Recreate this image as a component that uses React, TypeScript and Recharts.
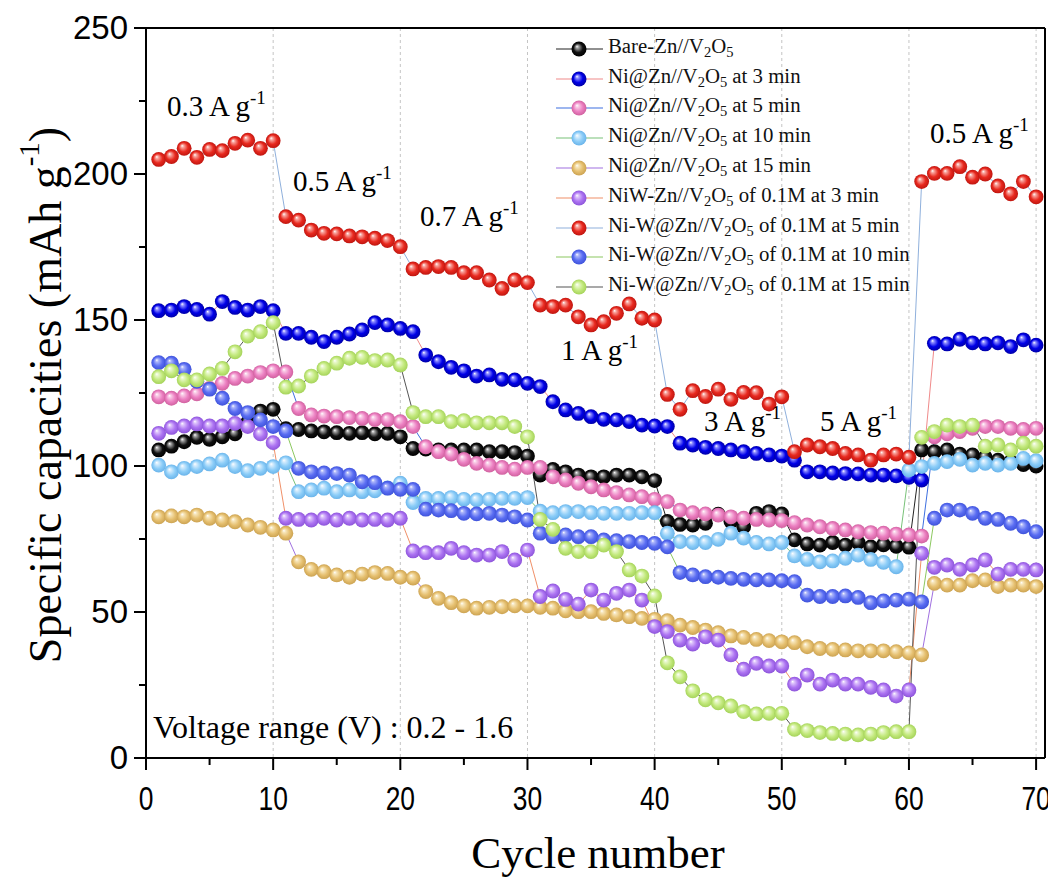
import React from "react";
import { LineChart, Line, XAxis, YAxis, CartesianGrid, Legend, ReferenceLine } from "recharts";

const cycles = [
  1, 2, 3, 4, 5, 6, 7, 8, 9, 10, 11, 12, 13, 14, 15, 16, 17, 18, 19, 20,
  21, 22, 23, 24, 25, 26, 27, 28, 29, 30, 31, 32, 33, 34, 35, 36, 37, 38, 39, 40,
  41, 42, 43, 44, 45, 46, 47, 48, 49, 50, 51, 52, 53, 54, 55, 56, 57, 58, 59, 60,
  61, 62, 63, 64, 65, 66, 67, 68, 69, 70,
];

const bare = [
  105.5, 106.8, 108.3, 109.8, 109.1, 110, 111, 115, 118.8, 119.4,
  112.8, 112.5, 112, 111.7, 111.4, 111.2, 111.4, 111, 111.2, 110, 106,
  105.8, 105.5, 105.5, 105.5, 105.5, 104.9, 104.9, 104.6, 103.4,
  96.9, 98.8, 98, 96.9, 96.3, 96.3, 96.9, 96.9, 96.3, 95,
  81, 80, 79.8, 80.4, 83.5, 81, 79.2, 83.8, 84.4, 83.6,
  74.7, 73.3, 72.9, 73.8, 72.9, 73.8, 72.3, 73, 72.5, 72.2,
  105.5, 104.9, 105.5, 104.1, 103.8, 103, 102, 101.5, 100.5, 100,
];

const ni3 = [
  153.2, 153.4, 154.6, 153.6, 152, 156.3, 154.3, 153.4, 154.6, 153.2,
  145.4, 145.4, 144.1, 142.6, 144.1, 145.2, 146.6, 149.1, 148.3, 147.1, 146,
  138, 135.7, 133.8, 132.6, 130.8, 131.2, 129.7, 129.5, 128.3,
  127.2, 122, 119.2, 118, 116.9, 116, 115.8, 115.2, 114, 113.7, 113.5,
  107.8, 107.2, 106.4, 106, 105.5, 104.9, 104.3, 103.8, 103.4, 102,
  98, 98, 97.6, 97.4, 97.3, 96.9, 96.9, 96.6, 96.1, 95.2,
  142, 141.8, 143.4, 142.2, 141.8, 142.2, 140.9, 143.2, 141.4,
];

const ni5 = [
  123.7, 123.2, 124, 124.7, 126.6, 128.3, 130, 130.8, 132, 132.6, 132.2,
  119.7, 117.5, 117.1, 116.9, 116.6, 116.3, 115.9, 115.9, 115.2, 113.5,
  106.6, 104.9, 104.1, 102.3, 100.9, 100.3, 99.5, 98.9, 99.5, 99.5,
  96.3, 95.2, 94.1, 92.9, 91.8, 90.9, 90.1, 89.5, 88.6, 87.8,
  84.9, 84, 83.6, 83.2, 82.6, 82.1, 81.7, 81.5, 81.3, 80.6,
  79.8, 79.2, 78.6, 78.1, 77.5, 77.2, 77, 76.7, 76.4, 76,
  110, 111, 111.8, 112.9, 113.5, 113.5, 112.9, 112.5, 112.9,
];

const ni10 = [
  100.3, 98, 99.2, 99.8, 100.7, 102, 99.8, 98.4, 99.2, 99.8, 101.1,
  91.2, 91.8, 92.4, 91.2, 91.8, 91.2, 91.5, 92.5, 94.1, 87.5,
  88.9, 88.9, 89.2, 88.6, 88.4, 88.6, 88.9, 88.9, 89.2,
  84.5, 84, 84.4, 84.4, 84, 83.8, 83.8, 83.8, 84, 84,
  77, 74.1, 73.8, 73.8, 74.9, 77, 75.3, 73.8, 73.3, 73.8,
  69.2, 68, 67.2, 67.5, 68.4, 69.5, 68, 67, 65.5,
  98.6, 99.8,
  100.9, 101.5, 102.3, 100.3, 100.9, 100.3, 100.9, 102.6, 101.8,
];

const ni15 = [
  82.6, 82.9, 82.6, 83.2, 82.1, 81.5, 80.9, 79.8, 79, 78.1, 77,
  67.2, 64.6, 63.8, 62.7, 61.9, 63, 63.5, 63.2, 61.9, 61.6,
  57, 54.7, 53.2, 52.1, 51.3, 51.6, 51.8, 52.1, 52.1,
  51.6, 51.3, 50.4, 50.1, 50.1, 49.5, 49, 48.4, 47.8, 47.5,
  47, 45.5, 44.7, 43.8, 42.9, 41.8, 41.3, 40.6, 40.2, 39.8,
  39.5, 38.1, 37.5, 37.2, 37, 36.7, 36.7, 36.7, 36.4, 36, 35.3,
  59.8, 59.2, 59.2, 60.7, 61, 58.7, 59.2, 59.2, 58.7,
];

const niw3 = [
  111.2, 113.2, 113.7, 114.4, 113.7, 113.7, 114.6, 113.5, 111, 108,
  82.1, 81.7, 81.5, 82.1, 81.5, 82.1, 81.5, 81.7, 81.5, 82.1,
  70.9, 70.3, 70.3, 71.8, 70.3, 69.5, 69.5, 70.7, 67.8, 71.2,
  55.3, 57.2, 54.3, 52.7, 57.5, 54.1, 56.4, 57.5, 54.1,
  45, 43.3, 40.4, 39, 41.5, 40.4, 35.3, 30.4, 32.4, 31.5, 31.5,
  25.3, 28.4, 25.3, 26.7, 25.3, 25.3, 24.2, 23.3, 21.2, 23.3,
  70.1, 65.3, 66.1, 64.6, 66.1, 67.8, 63, 64.6, 64.6, 64.4,
];

const niw5 = [
  205, 206, 208.8, 205.7, 208.4, 208, 210.5, 211.6, 208.8, 211.4,
  185.4, 184.2, 180.8, 179.7, 179.5, 178.8, 178.5, 178, 177.2, 175.1,
  167.5, 168, 168.3, 168, 166.2, 166.2, 163.7, 160.8, 163.7, 162.8,
  155.1, 154.6, 155.1, 151.1, 148.3, 149.4, 152.3, 155.5, 150.6, 150,
  124.5, 119.4, 125.8, 123.8, 126.3, 122.8, 125.2, 125.1, 121.2, 123.7,
  104.9, 107.2, 106.6, 106, 104.3, 103.8, 102, 103.8, 104.1, 103,
  197.4, 200.2, 200.2, 202.5, 198.9, 200, 195.9, 193.2, 197.4, 192.2,
];

const niw10 = [
  135.4, 135.2, 133.1, 129, 126.3, 123.2, 119.7, 118.3, 115.8, 113.5, 112,
  99.2, 98, 97.6, 97.4, 96.9, 94.6, 94.3, 92.4, 92, 92,
  85.2, 84.9, 84.7, 83.8, 83.6, 83.8, 83.2, 82.6, 81.5,
  77,
  75.8, 76.4, 75.8, 75.8, 74.7, 74.4, 74.1, 73.8, 73.5, 72.3,
  63.5, 62.7, 62.1, 61.9, 61.5, 61.2, 61, 61, 60.7, 60.4,
  55.8, 55.3, 55.3, 55.5, 55, 53.2, 53.8, 54.1, 54.4, 53.5,
  82.1, 84.9, 84.9, 83.8, 82.1, 81.7, 80.4, 79.2, 77.5,
];

const niw15 = [
  130.6, 132.6, 129.5, 129.5, 131.5, 133.4, 139.1, 144.5, 146, 149.1,
  127, 127.4, 130.8, 133.4, 135.2, 136.9, 137.2, 136.1, 136.3, 134.6,
  118.3, 116.9, 116.9, 115.2, 115.5, 114.8, 114.8, 114.8, 113.5, 110,
  81.7, 78.3, 71.8, 70.7, 70.7, 72.9, 70.7, 64.4, 62.3, 55.5,
  32.6, 27.8, 23, 19.9, 18.9, 17.8, 15.9, 15.1, 15.3, 15.3,
  9.8, 9.4, 8.7, 8.4, 8.2, 7.9, 8.2, 8.7, 9, 9,
  109.8, 111.8, 114, 113.5, 114, 106.8, 107.2, 105.5, 107.8, 106.8,
];

const xTicks = [0, 5, 10, 15, 20, 25, 30, 35, 40, 45, 50, 55, 60, 65, 70];
const yTicks = [0, 25, 50, 75, 100, 125, 150, 175, 200, 225, 250];
const gridX = [10, 20, 30, 40, 50, 60, 70];

const series = [
  { key: "bare", pre: "Bare-Zn//", post: "", line: "#222222", base: "#111111", light: "#a0a0a0", dark: "#000000" },
  { key: "ni3", pre: "Ni@Zn//", post: " at 3 min", line: "#f08a8a", base: "#0000e8", light: "#8c8cff", dark: "#0000a8" },
  { key: "ni5", pre: "Ni@Zn//", post: " at 5 min", line: "#3d6fe0", base: "#ec80c2", light: "#f9cbe6", dark: "#d0619f" },
  { key: "ni10", pre: "Ni@Zn//", post: " at 10 min", line: "#79c279", base: "#8ccdf8", light: "#d4ecfd", dark: "#6ab4ea" },
  { key: "ni15", pre: "Ni@Zn//", post: " at 15 min", line: "#a070e0", base: "#e6c070", light: "#f7e6bb", dark: "#cca352" },
  { key: "niw3", pre: "NiW-Zn//", post: " of 0.1M at 3 min", line: "#f09068", base: "#ad74f2", light: "#ddc3fb", dark: "#8d55da" },
  { key: "niw5", pre: "Ni-W@Zn//", post: " of 0.1M at 5 min", line: "#8fb0dc", base: "#e8291f", light: "#f8a39c", dark: "#bf1610" },
  { key: "niw10", pre: "Ni-W@Zn//", post: " of 0.1M at 10 min", line: "#8cc860", base: "#5a6df2", light: "#abb5fa", dark: "#3f53da" },
  { key: "niw15", pre: "Ni-W@Zn//", post: " of 0.1M at 15 min", line: "#555555", base: "#c3e97d", light: "#e8f8ca", dark: "#a5d35a" },
];

const data = cycles.map((c, i) => ({
  cycle: c,
  bare: bare[i],
  ni3: ni3[i],
  ni5: ni5[i],
  ni10: ni10[i],
  ni15: ni15[i],
  niw3: niw3[i],
  niw5: niw5[i],
  niw10: niw10[i],
  niw15: niw15[i],
}));

const serif = "'Liberation Serif', 'Times New Roman', serif";
const sans = "'Liberation Sans', Arial, sans-serif";

const annotations = [
  { x: 159, y: 108, text: "0.3 A g" },
  { x: 285, y: 183, text: "0.5 A g" },
  { x: 412, y: 218, text: "0.7 A g" },
  { x: 553, y: 352, text: "1 A g" },
  { x: 696, y: 423, text: "3 A g" },
  { x: 812, y: 423, text: "5 A g" },
  { x: 922, y: 135, text: "0.5 A g" },
];

const makeDot = (key: string) => (p: any) => {
  if (p.cy == null || p.cx == null) return <g key={`${key}-${p.index}`} />;
  return <circle key={`${key}-${p.index}`} cx={p.cx} cy={p.cy} r={7.4} fill={`url(#sph-${key})`} />;
};

const XTick = (props: any) => {
  const { x, y, payload } = props;
  const major = payload.value % 10 === 0;
  return (
    <g>
      <line x1={x} x2={x} y1={y} y2={y + (major ? 12 : 7)} stroke="#000" strokeWidth={2} />
      {major && (
        <text
          transform={`translate(${x},${y + 52}) scale(0.8,1)`}
          textAnchor="middle"
          fontFamily={sans}
          fontSize={33}
          fill="#000"
        >
          {payload.value}
        </text>
      )}
    </g>
  );
};

const YTick = (props: any) => {
  const { x, y, payload } = props;
  const major = payload.value % 50 === 0;
  return (
    <g>
      <line x1={x} x2={x - (major ? 12 : 7)} y1={y} y2={y} stroke="#000" strokeWidth={2} />
      {major && (
        <text x={x - 18} y={y + 11} textAnchor="end" fontFamily={sans} fontSize={33} fill="#000">
          {payload.value}
        </text>
      )}
    </g>
  );
};

const XTitle = () => (
  <text x={590} y={860} textAnchor="middle" fontFamily={serif} fontSize={45} fill="#000">
    Cycle number
  </text>
);

const YTitle = () => (
  <text
    x={37}
    y={387}
    transform="rotate(-90 37 387)"
    textAnchor="middle"
    dominantBaseline="central"
    fontFamily={serif}
    fontSize={46}
    fill="#000"
  >
    Specific capacities (mAh g
    <tspan dy={-16} fontSize={29}>-1</tspan>
    <tspan dy={16}>)</tspan>
  </text>
);

const LegendBox = () => (
  <div style={{ fontFamily: serif, fontSize: 20.8, color: "#111" }}>
    {series.map((s) => (
      <div key={s.key} style={{ display: "flex", alignItems: "center", height: 29.8 }}>
        <svg width={54} height={20} style={{ flex: "none" }}>
          <line x1={2} x2={49} y1={10} y2={10} stroke={s.line} strokeWidth={1.2} />
          <circle cx={25} cy={10} r={7.5} fill={`url(#sph-${s.key})`} />
        </svg>
        <span style={{ whiteSpace: "nowrap", lineHeight: "20px" }}>
          {s.pre}V<sub style={{ fontSize: 14.5, verticalAlign: -4 }}>2</sub>O
          <sub style={{ fontSize: 14.5, verticalAlign: -4 }}>5</sub>
          {s.post}
        </span>
      </div>
    ))}
  </div>
);

export default function App() {
  return (
    <div style={{ position: "relative", width: 1048, height: 871 }}>
      <svg width={0} height={0} style={{ position: "absolute" }}>
        <defs>
          {series.map((s) => (
            <radialGradient key={s.key} id={`sph-${s.key}`} cx="50%" cy="50%" r="50%" fx="36%" fy="32%">
              <stop offset="0%" stopColor="#ffffff" />
              <stop offset="20%" stopColor={s.light} />
              <stop offset="62%" stopColor={s.base} />
              <stop offset="100%" stopColor={s.dark} />
            </radialGradient>
          ))}
        </defs>
      </svg>
      <LineChart width={1048} height={871} data={data} margin={{ top: 20, right: 11, left: 0, bottom: 0 }}>
        <CartesianGrid horizontal={false} verticalValues={gridX} stroke="#c4c4c4" strokeDasharray="3 3" />
        <XAxis
          dataKey="cycle"
          type="number"
          domain={[0, 70.7]}
          ticks={xTicks}
          interval={0}
          allowDataOverflow
          height={121}
          tickSize={0}
          tickMargin={0}
          tickLine={false}
          tick={<XTick />}
          axisLine={{ stroke: "#000", strokeWidth: 2 }}
          label={<XTitle />}
        />
        <YAxis
          type="number"
          domain={[0, 250]}
          ticks={yTicks}
          interval={0}
          width={138}
          tickSize={0}
          tickMargin={0}
          tickLine={false}
          tick={<YTick />}
          axisLine={{ stroke: "#000", strokeWidth: 2 }}
          label={<YTitle />}
        />
        <ReferenceLine y={250} stroke="#000" strokeWidth={2} />
        <ReferenceLine x={70.7} stroke="#000" strokeWidth={2} />
        {series.map((s) => (
          <Line
            key={s.key}
            dataKey={s.key}
            type="linear"
            stroke={s.line}
            strokeWidth={1}
            dot={makeDot(s.key)}
            activeDot={false}
            isAnimationActive={false}
            legendType="none"
          />
        ))}
        <Legend
          layout="vertical"
          align="center"
          verticalAlign="middle"
          content={<LegendBox />}
          wrapperStyle={{ left: 546, top: 26, width: 420, height: 270 }}
        />
      </LineChart>
      <svg
        width={1048}
        height={871}
        style={{ position: "absolute", left: 0, top: 0, pointerEvents: "none" }}
      >
        {annotations.map((a, i) => (
          <text key={i} x={a.x} y={a.y} fontFamily={serif} fontSize={29} fill="#000">
            {a.text}
            <tspan dy={-12} fontSize={19}>-1</tspan>
          </text>
        ))}
        <text x={145} y={730} fontFamily={serif} fontSize={32} fill="#000">
          Voltage range (V) : 0.2 - 1.6
        </text>
      </svg>
    </div>
  );
}
